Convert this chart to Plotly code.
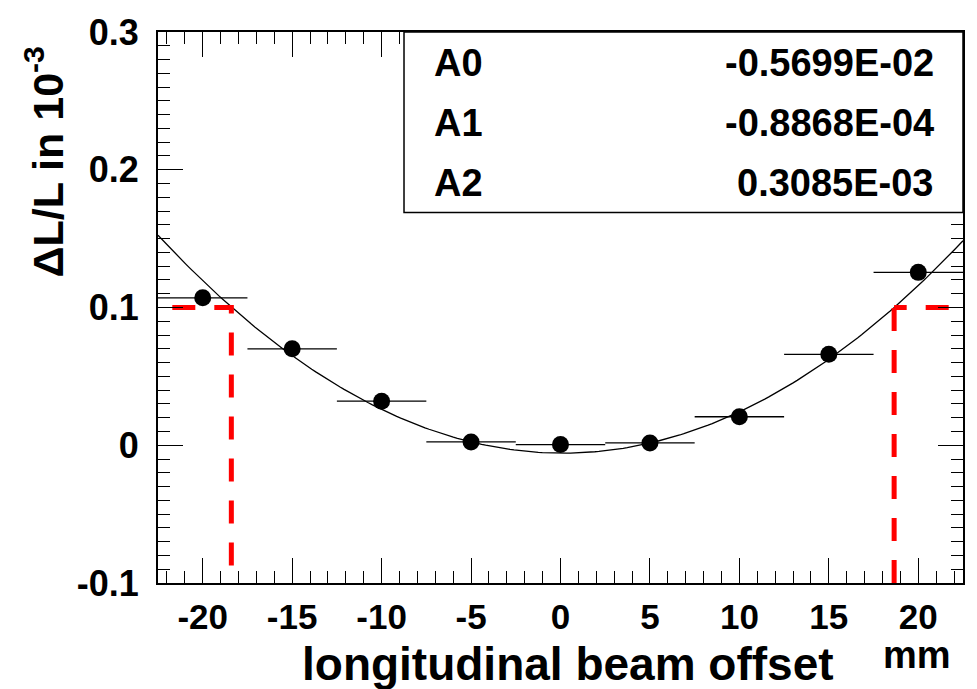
import numpy as np
import plotly.graph_objects as go

# ---- data ----
offsets = [-20, -15, -10, -5, 0, 5, 10, 15, 20]
dl_over_l = [0.107, 0.070, 0.032, 0.0024, 0.0005, 0.0017, 0.0207, 0.066, 0.1255]
bin_half_width = [2.5] * 9
par_names = ["A0", "A1", "A2"]
par_values = [-0.5699e-02, -0.8868e-04, 0.3085e-03]
par_labels = ["-0.5699E-02", "-0.8868E-04", "0.3085E-03"]
cut_level = 0.1
cut_x = [-18.4, 18.65]
x_range = [-22.5, 22.5]
y_range = [-0.1, 0.3]
x_ticks = [-20, -15, -10, -5, 0, 5, 10, 15, 20]
x_tick_text = ["-20", "-15", "-10", "-5", "0", "5", "10", "15", "20"]
y_ticks = [-0.1, 0, 0.1, 0.2, 0.3]
y_tick_text = ["-0.1", "0", "0.1", "0.2", "0.3"]

FONT = "Liberation Sans"
fig = go.Figure()

# fit curve from the displayed parameters
xf = np.linspace(x_range[0], x_range[1], 200)
yf = par_values[0] + par_values[1] * xf + par_values[2] * xf ** 2
fig.add_trace(go.Scatter(x=xf, y=yf, mode="lines",
                         line=dict(color="black", width=1.3), hoverinfo="skip"))

# red dashed cut lines
red = dict(color="#ff0000", width=5, dash="23px,19px")
fig.add_trace(go.Scatter(x=[x_range[0] + 0.8, cut_x[0], cut_x[0]],
                         y=[cut_level, cut_level, y_range[0]],
                         mode="lines", line=red))
fig.add_trace(go.Scatter(x=[cut_x[1], cut_x[1]], y=[y_range[0], cut_level],
                         mode="lines", line=red))
fig.add_trace(go.Scatter(x=[x_range[1] - 0.8, cut_x[1]], y=[cut_level, cut_level],
                         mode="lines", line=red))

# data points
fig.add_trace(go.Scatter(x=offsets, y=dl_over_l, mode="markers",
                         marker=dict(color="black", size=17),
                         error_x=dict(type="data", array=bin_half_width,
                                      color="black", thickness=1.3, width=0)))

axis_common = dict(showgrid=False, zeroline=False, showline=True, linecolor="black",
                   linewidth=2, mirror="ticks", ticks="inside", ticklen=25,
                   tickwidth=1, tickcolor="black")
fig.update_xaxes(range=x_range, tickvals=x_ticks, ticktext=x_tick_text,
                 tickfont=dict(family=FONT, size=35, color="black", weight="bold"),
                 minor=dict(dtick=1, ticks="inside", ticklen=12, tickcolor="black",
                            tickwidth=1, tick0=0),
                 ticklabelstandoff=2, **axis_common)
fig.update_yaxes(range=y_range, tickvals=y_ticks, ticktext=y_tick_text,
                 tickfont=dict(family=FONT, size=36, color="black", weight="bold"),
                 minor=dict(dtick=0.01, ticks="inside", ticklen=12, tickcolor="black",
                            tickwidth=1, tick0=0),
                 ticklabelstandoff=10, **axis_common)

# stats box
box_x0 = 0.3056
box_y0 = 0.6726
fig.add_shape(type="rect", xref="paper", yref="paper", x0=box_x0, x1=1, y0=box_y0, y1=1,
              line=dict(color="black", width=1.5), fillcolor="white", layer="above")
row_y = [0.9445, 0.8354, 0.7263]
for name, lab, yy in zip(par_names, par_labels, row_y):
    fig.add_annotation(xref="paper", yref="paper", x=0.3416, y=yy, text=name,
                       showarrow=False, xanchor="left", yanchor="middle", borderpad=0,
                       font=dict(family=FONT, size=38, color="black", weight="bold"))
    fig.add_annotation(xref="paper", yref="paper", x=0.9652, y=yy, text=lab,
                       showarrow=False, xanchor="right", yanchor="middle", borderpad=0,
                       font=dict(family=FONT, size=38, color="black", weight="bold"))

# axis titles
fig.add_annotation(xref="paper", yref="paper", x=0.1776, y=-0.1476,
                   text="longitudinal beam offset",
                   showarrow=False, xanchor="left", yanchor="middle", borderpad=0,
                   font=dict(family=FONT, size=46, color="black", weight="bold"))
fig.add_annotation(xref="paper", yref="paper", x=0.943, y=-0.1315, text="mm",
                   showarrow=False, xanchor="center", yanchor="middle", borderpad=0,
                   font=dict(family=FONT, size=38, color="black", weight="bold"))
fig.add_annotation(xref="paper", yref="paper", x=-0.1404, y=0.765,
                   text="ΔL/L in 10<sup>-3</sup>",
                   showarrow=False, xanchor="center", yanchor="middle", textangle=-90,
                   borderpad=0,
                   font=dict(family=FONT, size=43, color="black", weight="bold"))

fig.update_layout(width=977, height=689, showlegend=False,
                  margin=dict(l=158, r=14, t=24, b=106),
                  plot_bgcolor="white", paper_bgcolor="white")
fig.write_html("out.html")
